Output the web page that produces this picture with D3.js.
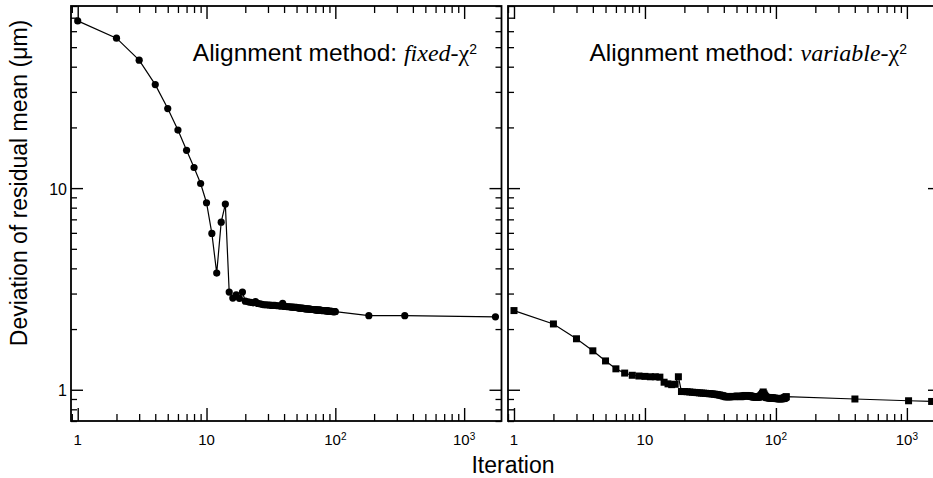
<!DOCTYPE html>
<html>
<head>
<meta charset="utf-8">
<script src="https://d3js.org/d3.v7.min.js"></script>
<style>
  body { margin: 0; background: #fff; }
  svg { display: block; }
  text { font-family: "Liberation Sans", Arial, Helvetica, sans-serif; fill: #000; }
</style>
</head>
<body>
<div id="chart"></div>
<script>
//************* data ***************/
// fixed-chi2 alignment: iteration, deviation of residual mean (um)
var fixedIter = [
  1, 2, 3, 4, 5, 6, 7, 8, 9, 10,
  11, 12, 13, 14, 15, 16, 17, 18, 19, 20,
  21, 22, 23, 24, 25, 26, 27, 28, 29, 30,
  31, 32, 33, 34, 35, 36, 37, 38, 39, 40,
  41, 42, 43, 44, 45, 46, 47, 48, 49, 50,
  51, 52, 53, 54, 55, 56, 57, 58, 59, 60,
  61, 62, 63, 64, 65, 66, 67, 68, 69, 70,
  71, 72, 73, 74, 75, 76, 77, 78, 79, 80,
  81, 82, 83, 84, 85, 86, 87, 88, 89, 90,
  91, 92, 93, 94, 95, 96, 97, 98, 99, 100,
  182, 346, 1750];
var fixedDev = [
  67.5, 55.4, 43.1, 32.6, 24.8, 19.4, 15.4, 12.65, 10.54, 8.46,
  5.96, 3.79, 6.78, 8.33, 3.05, 2.85, 2.96, 2.84, 3.05, 2.75,
  2.73, 2.71, 2.70, 2.74, 2.68, 2.67, 2.65, 2.64, 2.64, 2.63,
  2.63, 2.62, 2.62, 2.62, 2.61, 2.61, 2.60, 2.60, 2.68, 2.59,
  2.59, 2.58, 2.58, 2.58, 2.57, 2.57, 2.57, 2.56, 2.56, 2.56,
  2.55, 2.55, 2.54, 2.54, 2.54, 2.53, 2.53, 2.52, 2.52, 2.52,
  2.52, 2.51, 2.51, 2.51, 2.50, 2.50, 2.50, 2.50, 2.49, 2.49,
  2.49, 2.49, 2.48, 2.48, 2.48, 2.48, 2.48, 2.47, 2.47, 2.47,
  2.47, 2.47, 2.47, 2.46, 2.46, 2.46, 2.46, 2.46, 2.45, 2.45,
  2.45, 2.45, 2.45, 2.45, 2.44, 2.44, 2.44, 2.44, 2.44, 2.44,
  2.33, 2.33, 2.30];

// variable-chi2 alignment
var varIter = [
  1, 2, 3, 4, 5, 6, 7, 8, 9, 10,
  11, 12, 13, 14, 15, 16, 17, 18, 19, 20,
  21, 22, 23, 24, 25, 26, 27, 28, 29, 30,
  31, 32, 33, 34, 35, 36, 37, 38, 39, 40,
  41, 42, 43, 44, 45, 46, 47, 48, 49, 50,
  51, 52, 53, 54, 55, 56, 57, 58, 59, 60,
  61, 62, 63, 64, 65, 66, 67, 68, 69, 70,
  71, 72, 73, 74, 75, 76, 77, 78, 79, 80,
  81, 82, 83, 84, 85, 86, 87, 88, 89, 90,
  91, 92, 93, 94, 95, 96, 97, 98, 99, 100,
  101, 102, 103, 104, 105, 106, 107, 108, 109, 110,
  111, 112, 113, 114, 115, 116, 117, 118, 119, 120,
  401, 1030, 1545];
var varDev = [
  2.47, 2.12, 1.79, 1.56, 1.39, 1.27, 1.21, 1.18, 1.17, 1.165,
  1.16, 1.16, 1.155, 1.09, 1.07, 1.06, 1.065, 1.16, 0.98, 0.98,
  0.978, 0.975, 0.972, 0.97, 0.968, 0.965, 0.963, 0.962, 0.96, 0.958,
  0.956, 0.955, 0.953, 0.95, 0.948, 0.945, 0.942, 0.938, 0.935, 0.93,
  0.925, 0.923, 0.922, 0.923, 0.925, 0.927, 0.925, 0.924, 0.926, 0.928,
  0.93, 0.928, 0.925, 0.924, 0.926, 0.93, 0.933, 0.935, 0.937, 0.935,
  0.932, 0.93, 0.933, 0.93, 0.928, 0.925, 0.923, 0.92, 0.922, 0.92,
  0.918, 0.921, 0.919, 0.92, 0.925, 0.93, 0.938, 0.948, 0.96, 0.975,
  0.955, 0.94, 0.928, 0.92, 0.916, 0.914, 0.916, 0.913, 0.912, 0.91,
  0.912, 0.91, 0.909, 0.911, 0.908, 0.906, 0.908, 0.907, 0.905, 0.906,
  0.905, 0.904, 0.906, 0.904, 0.903, 0.904, 0.902, 0.903, 0.904, 0.902,
  0.905, 0.906, 0.904, 0.905, 0.908, 0.91, 0.913, 0.916, 0.92, 0.924,
  0.90, 0.882, 0.875];

// tick labels
var xMajor = [1, 10, 100, 1000];
var xTickBase = ["1", "10", "10", "10"];
var xTickExp = ["", "", "2", "3"];
var yMajor = [1, 10];
var yTickLabels = ["1", "10"];

var methodNames = ["fixed-", "variable-"];

//************* dimensions ***************/
var W = 933, H = 478;
var plotTop = 6, plotBottom = 421;

var svg = d3.select("#chart")
  .append("svg")
    .attr("width", W)
    .attr("height", H);

var y = d3.scaleLog()
  .domain([0.7, 80])
  .range([plotBottom, plotTop]);

var panels = [
  {x0: 71, x1: 501.5, dom: [0.887, 1950], iter: fixedIter, dev: fixedDev, shape: "circle", name: methodNames[0], labelX: 477},
  {x0: 508, x1: 940, dom: [0.9, 1790], iter: varIter, dev: varDev, shape: "square", name: methodNames[1], labelX: 907}
];

function minorTicks(dom) {
  var out = [];
  [0.1, 1, 10, 100, 1000].forEach(function(d) {
    for (var k = 2; k < 10; k++) {
      var v = d * k;
      if (v >= dom[0] * 0.999 && v <= dom[1] * 1.001) out.push(v);
    }
  });
  return out;
}

function styleAxis(g, w) {
  g.select(".domain").remove();
  g.selectAll("text").remove();
  g.selectAll("line").attr("stroke", "#000").attr("stroke-width", w);
}

panels.forEach(function(p, pi) {
  var x = d3.scaleLog().domain(p.dom).range([p.x0, p.x1]);
  var g = svg.append("g");

  var xMinor = minorTicks(p.dom);
  var yMinor = minorTicks(y.domain());

  //***** ticks, all four sides, pointing inward *****/
  g.append("g").attr("transform", "translate(0," + plotBottom + ")")
    .call(d3.axisBottom(x).tickValues(xMajor).tickSize(-13)).call(styleAxis, 1.4);
  g.append("g").attr("transform", "translate(0," + plotBottom + ")")
    .call(d3.axisBottom(x).tickValues(xMinor).tickSize(-7)).call(styleAxis, 1.3);
  g.append("g").attr("transform", "translate(0," + plotTop + ")")
    .call(d3.axisTop(x).tickValues(xMajor).tickSize(-13)).call(styleAxis, 1.4);
  g.append("g").attr("transform", "translate(0," + plotTop + ")")
    .call(d3.axisTop(x).tickValues(xMinor).tickSize(-7)).call(styleAxis, 1.3);

  g.append("g").attr("transform", "translate(" + p.x0 + ",0)")
    .call(d3.axisLeft(y).tickValues(yMajor).tickSize(-12)).call(styleAxis, 1.4);
  g.append("g").attr("transform", "translate(" + p.x0 + ",0)")
    .call(d3.axisLeft(y).tickValues(yMinor).tickSize(-6)).call(styleAxis, 1.3);
  g.append("g").attr("transform", "translate(" + p.x1 + ",0)")
    .call(d3.axisRight(y).tickValues(yMajor).tickSize(-12)).call(styleAxis, 1.4);
  g.append("g").attr("transform", "translate(" + p.x1 + ",0)")
    .call(d3.axisRight(y).tickValues(yMinor).tickSize(-6)).call(styleAxis, 1.3);

  //***** frame *****/
  g.append("rect")
    .attr("x", p.x0)
    .attr("y", plotTop)
    .attr("width", p.x1 - p.x0)
    .attr("height", plotBottom - plotTop)
    .attr("fill", "none")
    .attr("stroke", "#000")
    .attr("stroke-width", 1.8);

  //***** x tick labels *****/
  xMajor.forEach(function(v, i) {
    var t = g.append("text")
      .attr("x", x(v))
      .attr("y", 445)
      .attr("text-anchor", "middle")
      .attr("font-size", "15px");
    t.append("tspan").text(xTickBase[i]);
    if (xTickExp[i]) {
      t.append("tspan")
        .attr("font-size", "10px")
        .attr("dy", -5)
        .text(xTickExp[i]);
    }
  });

  //***** y tick labels, left panel only *****/
  if (pi === 0) {
    yMajor.forEach(function(v, i) {
      g.append("text")
        .attr("x", p.x0 - 4)
        .attr("y", y(v) + 6.5)
        .attr("text-anchor", "end")
        .attr("font-size", "16px")
        .text(yTickLabels[i]);
    });
  }

  //***** data *****/
  var pts = p.iter.map(function(n, i) { return [n, p.dev[i]]; });

  var line = d3.line()
    .x(function(d) { return x(d[0]); })
    .y(function(d) { return y(d[1]); });

  g.append("path")
    .datum(pts)
    .attr("d", line)
    .attr("fill", "none")
    .attr("stroke", "#000")
    .attr("stroke-width", 1.2);

  if (p.shape === "circle") {
    g.selectAll("circle.pt")
      .data(pts)
      .enter()
      .append("circle")
        .attr("class", "pt")
        .attr("cx", function(d) { return x(d[0]); })
        .attr("cy", function(d) { return y(d[1]); })
        .attr("r", 3.6)
        .attr("fill", "#000");
  } else {
    g.selectAll("rect.pt")
      .data(pts)
      .enter()
      .append("rect")
        .attr("class", "pt")
        .attr("x", function(d) { return x(d[0]) - 3.5; })
        .attr("y", function(d) { return y(d[1]) - 3.5; })
        .attr("width", 7)
        .attr("height", 7)
        .attr("fill", "#000");
  }

  //***** method annotation *****/
  var ann = g.append("text")
    .attr("x", p.labelX)
    .attr("y", 61)
    .attr("text-anchor", "end")
    .attr("font-size", "24.5px");
  ann.append("tspan").text("Alignment method: ");
  ann.append("tspan")
    .attr("font-family", "'Liberation Serif', 'Times New Roman', serif")
    .attr("font-style", "italic")
    .attr("font-size", "24px")
    .text(p.name);
  ann.append("tspan")
    .attr("font-family", "'Liberation Serif', 'Times New Roman', serif")
    .attr("font-size", "24px")
    .text("\u03C7");
  ann.append("tspan")
    .attr("font-size", "14px")
    .attr("dy", -7)
    .text("2");
});

//************* axis titles ***************/
svg.append("text")
  .attr("x", 513)
  .attr("y", 473)
  .attr("text-anchor", "middle")
  .attr("font-size", "23px")
  .text("Iteration");

svg.append("text")
  .attr("transform", "translate(27,183) rotate(-90)")
  .attr("text-anchor", "middle")
  .attr("font-size", "23px")
  .text("Deviation of residual mean (\u03BCm)");
</script>
</body>
</html>
